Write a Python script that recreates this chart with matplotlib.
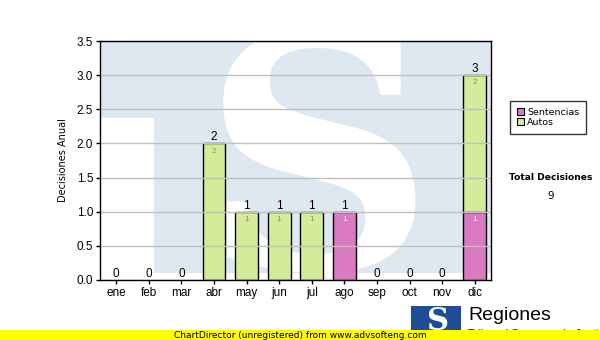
import numpy as np
import matplotlib.pyplot as plt
from matplotlib.patches import Rectangle

months = ['ene', 'feb', 'mar', 'abr', 'may', 'jun', 'jul', 'ago', 'sep', 'oct', 'nov', 'dic']
sentencias = [0, 0, 0, 0, 0, 0, 0, 1, 0, 0, 0, 1]
autos = [0, 0, 0, 2, 1, 1, 1, 0, 0, 0, 0, 2]
series_names = ['Sentencias', 'Autos']
total_label = 'Total Decisiones'

PINK = '#d97ac2'
GREEN = '#d4ec9a'
WM_BLUE = '#dfe8f1'

plt.rcParams['font.family'] = ['Liberation Sans', 'DejaVu Sans']

fig = plt.figure(figsize=(6.0, 3.4), dpi=100)
ax = fig.add_axes([100 / 600, 1 - 280 / 340, 391 / 600, 239 / 340])

x = np.arange(len(months))
sen = np.array(sentencias)
aut = np.array(autos)
tot = sen + aut

# watermark background (rough "TS" logo)
ax.set_facecolor(WM_BLUE)
ax.add_patch(Rectangle((-0.5, 0), 1.67, 2.37, facecolor='white', edgecolor='none', zorder=0))
ax.add_patch(Rectangle((-0.5, 0), 12, 0.1, facecolor='white', edgecolor='none', zorder=0))
ax.text(6.2, 0.17, 'S', fontsize=232, fontweight='bold', family='DejaVu Serif',
        color='white', ha='center', va='baseline', zorder=0.5, clip_on=True)

ax.yaxis.grid(True, color='#c0c0c0', linewidth=1, zorder=1)
ax.set_axisbelow(False)

w = 0.7
ax.bar(x, sen, width=w, color=PINK, edgecolor=['black' if v > 0 else 'none' for v in sen],
       linewidth=1, zorder=2, label=series_names[0])
ax.bar(x, aut, width=w, bottom=sen, color=GREEN,
       edgecolor=['black' if v > 0 else 'none' for v in aut],
       linewidth=1, zorder=2, label=series_names[1])

for i in range(len(months)):
    ax.annotate(str(tot[i]), (x[i], tot[i]), xytext=(0, 0), textcoords='offset points',
                ha='center', va='bottom', fontsize=8.5, zorder=3)
    if sen[i] > 0:
        ax.annotate(str(sen[i]), (x[i], sen[i]), xytext=(0, -3), textcoords='offset points',
                    ha='center', va='top', fontsize=6, color='white', zorder=3)
    if aut[i] > 0:
        ax.annotate(str(aut[i]), (x[i], sen[i] + aut[i]), xytext=(0, -3), textcoords='offset points',
                    ha='center', va='top', fontsize=6, color='#8c8c8c', zorder=3)

ax.set_xlim(-0.5, 11.5)
ax.set_ylim(0, 3.5)
ax.set_yticks(np.arange(0, 3.51, 0.5))
ax.set_yticklabels(['%.1f' % v for v in np.arange(0, 3.51, 0.5)])
ax.set_xticks(x)
ax.set_xticklabels(months)
ax.tick_params(labelsize=8.5, length=3, width=1, direction='out', pad=2)
for s in ax.spines.values():
    s.set_linewidth(1)
    s.set_zorder(4)
ax.set_ylabel('Decisiones Anual', fontsize=7, family='DejaVu Sans', labelpad=6)

leg = fig.legend(loc='upper left', bbox_to_anchor=(510 / 600, 1 - 101 / 340),
                 prop={'family': 'DejaVu Sans', 'size': 6.8},
                 frameon=True, fancybox=False, edgecolor='black',
                 handlelength=0.8, handleheight=0.8, handletextpad=0.3,
                 borderpad=0.7, labelspacing=0.15, borderaxespad=0)
leg.get_frame().set_linewidth(1)
for h in leg.legend_handles:
    h.set_edgecolor('black')
    h.set_linewidth(0.8)

fig.text(551 / 600, 1 - 178 / 340, total_label, fontsize=6.6, fontweight='bold',
         family='DejaVu Sans', ha='center', va='center')
fig.text(551 / 600, 1 - 196 / 340, str(tot.sum()), fontsize=7.5,
         family='DejaVu Sans', ha='center', va='center')

# logo at the bottom right
fig.patches.append(Rectangle((411 / 600, 0), 50 / 600, 34 / 340, facecolor='#1f4e96',
                             edgecolor='none', transform=fig.transFigure, figure=fig))
fig.text(438 / 600, 1 - 322 / 340, 'S', fontsize=22, fontweight='bold', family='DejaVu Serif',
         color='white', ha='center', va='center')
fig.text(468 / 600, 1 - 316 / 340, 'Regiones', fontsize=14, ha='left', va='center')
fig.text(468 / 600, 1 - 334 / 340, 'Tribunal Supremo de Justicia', fontsize=8,
         ha='left', va='center', color='#1f1f1f')

# unregistered banner
fig.patches.append(Rectangle((0, 0), 1, 10 / 340, facecolor='#ffff00', edgecolor='none',
                             transform=fig.transFigure, figure=fig, zorder=5))
fig.text(300 / 600, 5 / 340, 'ChartDirector (unregistered) from www.advsofteng.com',
         fontsize=6.5, family='DejaVu Sans', ha='center', va='center', zorder=6)

fig.savefig('out.png', dpi=100)
